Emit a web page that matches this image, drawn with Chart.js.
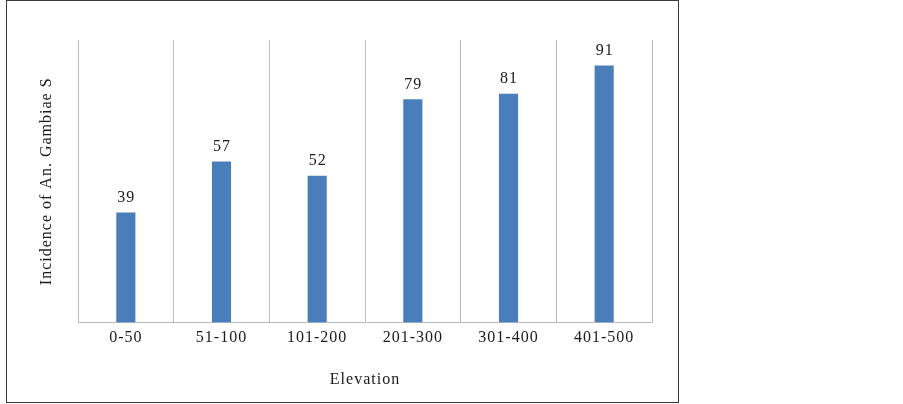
<!DOCTYPE html>
<html>
<head>
<meta charset="utf-8">
<script src="https://cdn.jsdelivr.net/npm/chart.js@4/dist/chart.umd.min.js"></script>
<style>
  html, body { margin: 0; padding: 0; background: #fff; }
  body { width: 903px; height: 404px; position: relative; overflow: hidden; }
  #frame { position: absolute; left: 6px; top: 0px; width: 671px; height: 401px; border: 1.5px solid #3a3a3a; box-sizing: content-box; }
  #wrap { position: absolute; left: 0; top: 0; width: 671px; height: 401px; }
</style>
</head>
<body>
<div id="frame"><div id="wrap"><canvas id="c"></canvas></div></div>
<script>
const categories = ['0-50', '51-100', '101-200', '201-300', '301-400', '401-500'];
const incidence = [39, 57, 52, 79, 81, 91];
const xTitle = 'Elevation';
const yTitle = 'Incidence of An. Gambiae S';

const FONT = 'Liberation Serif, Times New Roman, serif';

const spacingPlugin = {
  id: 'spacing',
  beforeUpdate(chart) { chart.ctx.letterSpacing = '1px'; },
  beforeLayout(chart) { chart.ctx.letterSpacing = '1px'; },
  beforeDraw(chart) { chart.ctx.letterSpacing = '1px'; }
};

const valueLabels = {
  id: 'valueLabels',
  afterDatasetsDraw(chart) {
    const ctx = chart.ctx;
    ctx.save();
    ctx.letterSpacing = '1px';
    ctx.font = '16px ' + FONT;
    ctx.fillStyle = '#1a1a1a';
    ctx.textAlign = 'center';
    ctx.textBaseline = 'bottom';
    const meta = chart.getDatasetMeta(0);
    meta.data.forEach((bar, i) => {
      ctx.fillText(String(chart.data.datasets[0].data[i]), bar.x + 0.5, bar.y - 7);
    });
    ctx.restore();
  }
};

new Chart(document.getElementById('c'), {
  type: 'bar',
  data: {
    labels: categories,
    datasets: [{
      data: incidence,
      backgroundColor: '#4a7ebb',
      borderWidth: 0,
      categoryPercentage: 1,
      barPercentage: 0.2
    }]
  },
  options: {
    responsive: true,
    maintainAspectRatio: false,
    animation: false,
    layout: { padding: { top: 39, right: 26, bottom: 0, left: 0 } },
    plugins: { legend: { display: false }, tooltip: { enabled: false } },
    scales: {
      x: {
        grid: { display: true, offset: true, color: '#b8bcc4', lineWidth: 1, drawTicks: false },
        border: { display: true, color: '#b8bcc4', width: 1 },
        ticks: { color: '#1a1a1a', font: { family: FONT, size: 16 }, padding: 6, maxRotation: 0 },
        title: { display: true, text: xTitle, color: '#1a1a1a', font: { family: FONT, size: 16 }, padding: { top: 16, bottom: 13 } }
      },
      y: {
        min: 0,
        max: 100,
        grid: { display: false, drawTicks: false },
        border: { display: false },
        ticks: { display: false },
        title: { display: true, text: yTitle, color: '#1a1a1a', font: { family: FONT, size: 16 }, padding: { top: 30, bottom: 0 } },
        afterFit(scale) { scale.width = 71; }
      }
    }
  },
  plugins: [spacingPlugin, valueLabels]
});
</script>
</body>
</html>
